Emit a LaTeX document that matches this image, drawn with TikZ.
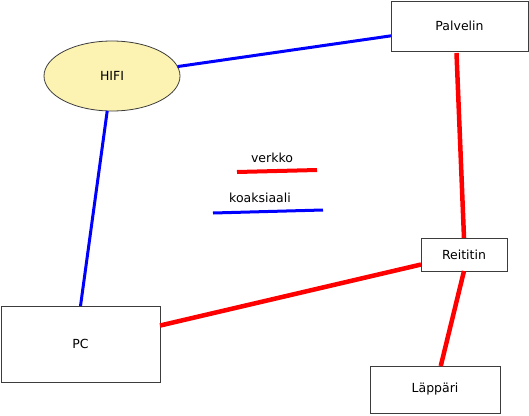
\documentclass[tikz,border=0pt]{standalone}
\usepackage{fontspec}
\setmainfont{DejaVu Sans}
\usetikzlibrary{shapes.geometric,calc}
\definecolor{hififill}{RGB}{252,243,178}
\definecolor{boxline}{RGB}{60,60,60}
\begin{document}
\begin{tikzpicture}[x=1pt,y=-1pt,
  every node/.style={font=\fontsize{12.5}{15}\selectfont},
  devbox/.style={draw=boxline,line width=1pt,fill=white,rectangle,inner sep=0pt,outer sep=0pt},
  hifishape/.style={draw=boxline,line width=0.8pt,fill=hififill,ellipse,inner sep=0pt,outer sep=0pt,minimum width=136pt,minimum height=70pt},
  redline/.style={draw=red,line width=4.5pt},
  blueline/.style={draw=blue,line width=3pt},
  lbl/.style={inner sep=0pt}]
\useasboundingbox (0,0) rectangle (529,415);
\node[devbox,minimum width=137pt,minimum height=50pt] (palvelin) at (459.5,26) {Palvelin};
\node[hifishape] (hifi) at (112,76) {HIFI};
\node[devbox,minimum width=86pt,minimum height=33pt] (reititin) at (464,254.5) {Reititin};
\node[devbox,minimum width=159pt,minimum height=76pt] (pc) at (80.5,344) {PC};
\node[devbox,minimum width=130pt,minimum height=47pt] (lappari) at (435,389.5) {Läppäri};
\draw[blueline] (hifi) -- (palvelin);
\draw[blueline] (hifi) -- (pc.north);
\draw[redline] ($(palvelin.south)+(-3,2)$) -- (reititin.north);
\draw[redline] (reititin) -- (pc);
\draw[redline] (reititin.south) -- (lappari);
% legend
\node[lbl] (verkko) at (272,158) {verkko};
\coordinate (v1) at (237,172);
\coordinate (v2) at (317,170);
\draw[redline,line width=4pt] (v1) -- (v2);
\node[lbl] (koaks) at (260,198) {koaksiaali};
\coordinate (k1) at (213,213);
\coordinate (k2) at (323,210);
\draw[blueline] (k1) -- (k2);
\end{tikzpicture}
\end{document}
